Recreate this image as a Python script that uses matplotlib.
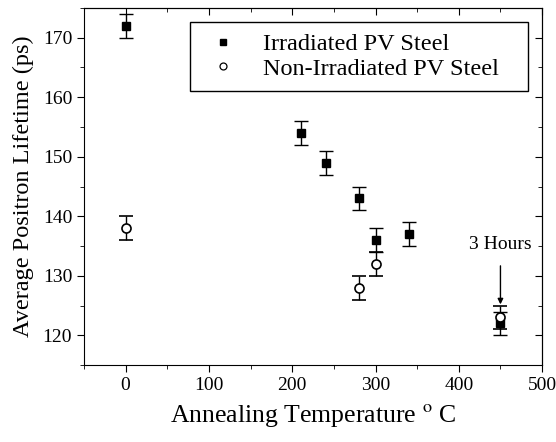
"""Average positron lifetime vs annealing temperature, irradiated vs non-irradiated PV steel."""
import matplotlib
matplotlib.use("Agg")
import matplotlib.pyplot as plt
from matplotlib.lines import Line2D
from matplotlib.ticker import MultipleLocator, NullFormatter

plt.rcParams["font.family"] = ["Liberation Serif", "DejaVu Serif"]
plt.rcParams["mathtext.fontset"] = "stix"

# ---- data ----
irr_temp = [0, 210, 240, 280, 300, 340, 450]
irr_life = [172, 154, 149, 143, 136, 137, 122]
irr_err = [2, 2, 2, 2, 2, 2, 2]

non_temp = [0, 280, 300, 450]
non_life = [138, 128, 132, 123]
non_err = [2, 2, 2, 2]

fig = plt.figure(figsize=(5.56, 4.42), dpi=100)
ax = fig.add_axes([0.151, 0.174, 0.824, 0.808])

ax.errorbar(irr_temp, irr_life, yerr=irr_err, fmt="s", color="black", ms=6,
            capsize=5, elinewidth=1, capthick=1)
ax.errorbar(non_temp, non_life, yerr=non_err, fmt="o", mfc="white", mec="black",
            ecolor="black", ms=6.5, mew=1.2, capsize=5, elinewidth=1, capthick=1)

ax.annotate("3 Hours", xy=(450, 125.2), xytext=(450, 135.2), ha="center", va="center",
            fontsize=14, arrowprops=dict(arrowstyle="-|>", color="black", lw=1,
                                         mutation_scale=8, shrinkA=7, shrinkB=0))

ax.set_xlim(-50, 500)
ax.set_ylim(115, 175)
ax.xaxis.set_major_locator(MultipleLocator(100))
ax.xaxis.set_minor_locator(MultipleLocator(50))
ax.yaxis.set_major_locator(MultipleLocator(10))
ax.yaxis.set_minor_locator(MultipleLocator(5))
ax.tick_params(which="both", direction="out", labelsize=14)
ax.tick_params(which="major", length=5)
ax.tick_params(which="minor", length=3)

# mirrored ticks on top/right, pointing in, no labels
top = ax.secondary_xaxis("top")
top.xaxis.set_major_locator(MultipleLocator(100))
top.xaxis.set_minor_locator(MultipleLocator(50))
top.xaxis.set_major_formatter(NullFormatter())
right = ax.secondary_yaxis("right")
right.yaxis.set_major_locator(MultipleLocator(10))
right.yaxis.set_minor_locator(MultipleLocator(5))
right.yaxis.set_major_formatter(NullFormatter())
for sec in (top, right):
    sec.tick_params(which="both", direction="in")
    sec.tick_params(which="major", length=5)
    sec.tick_params(which="minor", length=3)

ax.set_xlabel(r"Annealing Temperature $^{\mathrm{o}}$ C", fontsize=18.5, labelpad=6)
ax.set_ylabel("Average Positron Lifetime (ps)", fontsize=17.5, labelpad=6)

handles = [
    Line2D([], [], ls="none", marker="s", color="black", ms=5),
    Line2D([], [], ls="none", marker="o", mfc="white", mec="black", mew=0.9, ms=5),
]
labels = ["Irradiated PV Steel", "Non-Irradiated PV Steel"]
leg = ax.legend(handles, labels, loc="upper left", bbox_to_anchor=(0.2314, 0.753, 0.738, 0.208),
                mode="expand", borderaxespad=0, fontsize=17.5, fancybox=False,
                edgecolor="black", framealpha=1, borderpad=0.47, labelspacing=0.1,
                handlelength=1.78, handletextpad=0.76)
leg.get_frame().set_linewidth(1)

fig.savefig("out.png", dpi=100, facecolor="white")
